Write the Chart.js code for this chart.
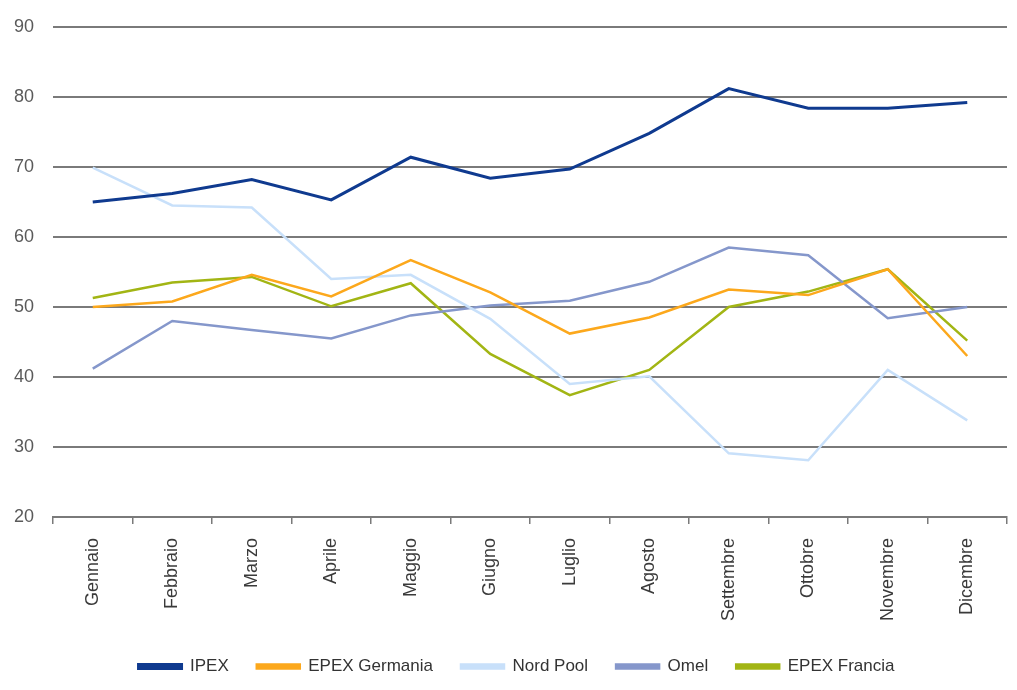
<!DOCTYPE html>
<html>
<head>
<meta charset="utf-8">
<script src="https://cdn.jsdelivr.net/npm/chart.js@4"></script>
<style>
    html, body { margin: 0; padding: 0; background: #ffffff; }
    #wrap { width: 1017px; height: 690px; position: relative; }
</style>
</head>
<body>
<div id="wrap"><canvas id="ChartPrezzi"></canvas></div>
<script>
// Months on the x axis
const mesi = ['Gennaio', 'Febbraio', 'Marzo', 'Aprile', 'Maggio', 'Giugno',
              'Luglio', 'Agosto', 'Settembre', 'Ottobre', 'Novembre', 'Dicembre'];

// Monthly prices
const ipex          = [65.0, 66.2, 68.2, 65.3, 71.4, 68.4, 69.7, 74.8, 81.2, 78.4, 78.4, 79.2];
const epexGermania  = [50.0, 50.8, 54.6, 51.5, 56.7, 52.1, 46.2, 48.5, 52.5, 51.7, 55.4, 43.0];
const nordPool      = [69.9, 64.5, 64.2, 54.0, 54.6, 48.3, 39.0, 40.1, 29.1, 28.1, 41.0, 33.8];
const omel          = [41.2, 48.0, 46.7, 45.5, 48.8, 50.2, 50.9, 53.6, 58.5, 57.4, 48.4, 50.0];
const epexFrancia   = [51.3, 53.5, 54.3, 50.1, 53.4, 43.3, 37.4, 41.0, 50.0, 52.2, 55.4, 45.2];

const gridColor = '#7a7a7a';

// The legend in the picture sits a bit right of the canvas centre
const shiftLegend = {
    id: 'shiftLegend',
    afterLayout(chart) {
        if (chart.legend) {
            chart.legend.left += 13;
            chart.legend.right += 13;
        }
    }
};

var ctx = document.getElementById('ChartPrezzi');
new Chart(ctx, {
    type: 'line',
    data: {
        labels: mesi,
        datasets: [
            { label: 'IPEX', data: ipex, borderColor: '#0f3a8f', backgroundColor: '#0f3a8f', borderWidth: 3 },
            { label: 'EPEX Germania', data: epexGermania, borderColor: '#fca81c', backgroundColor: '#fca81c', borderWidth: 2.5 },
            { label: 'Nord Pool', data: nordPool, borderColor: '#c8e0fa', backgroundColor: '#c8e0fa', borderWidth: 2.5 },
            { label: 'Omel', data: omel, borderColor: '#8597cb', backgroundColor: '#8597cb', borderWidth: 2.5 },
            { label: 'EPEX Francia', data: epexFrancia, borderColor: '#a2b514', backgroundColor: '#a2b514', borderWidth: 2.5 }
        ]
    },
    options: {
        responsive: true,
        maintainAspectRatio: false,
        animation: false,
        layout: {
            padding: { top: 27, left: 0, right: 10, bottom: 5 }
        },
        elements: {
            point: { radius: 0, hoverRadius: 0 },
            line: { tension: 0, fill: false }
        },
        plugins: {
            tooltip: { enabled: false },
            title: { display: false },
            legend: {
                display: true,
                position: 'bottom',
                labels: {
                    boxWidth: 43,
                    boxHeight: 4,
                    padding: 28,
                    color: '#333333',
                    font: { family: "'Liberation Sans', Arial, sans-serif", size: 17 }
                }
            }
        },
        scales: {
            x: {
                offset: true,
                grid: {
                    offset: true,
                    drawOnChartArea: false,
                    drawTicks: true,
                    tickLength: 7,
                    color: gridColor,
                    lineWidth: 1.5
                },
                border: { display: true, color: gridColor, width: 2 },
                ticks: {
                    minRotation: 90,
                    maxRotation: 90,
                    padding: 14,
                    autoSkip: false,
                    color: '#3a3a3a',
                    font: { family: "'Liberation Sans', Arial, sans-serif", size: 18 }
                },
                afterFit: function(scale) { scale.height = 113; }
            },
            y: {
                min: 20,
                max: 90,
                grid: {
                    color: gridColor,
                    lineWidth: 2,
                    drawTicks: false
                },
                border: { display: false },
                ticks: {
                    stepSize: 10,
                    padding: 19,
                    color: '#5a5a5a',
                    font: { family: "'Liberation Sans', Arial, sans-serif", size: 18 }
                },
                afterFit: function(scale) {
                    scale.width = 53;
                    scale.paddingTop = 0;
                    scale.paddingBottom = 0;
                }
            }
        }
    },
    plugins: [shiftLegend]
});
</script>
</body>
</html>
